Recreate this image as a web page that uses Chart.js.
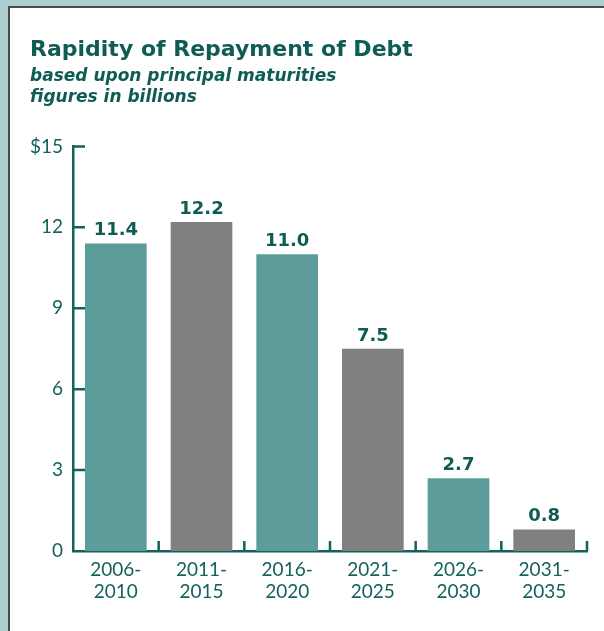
<!DOCTYPE html>
<html>
<head>
<meta charset="utf-8">
<script src="https://cdn.jsdelivr.net/npm/chart.js@4"></script>
<style>
  html, body { margin: 0; padding: 0; }
  body { width: 604px; height: 631px; background: #aecfcf; position: relative; overflow: hidden; }
  #panel { position: absolute; left: 8px; top: 6px; right: 0; bottom: 0; background: #fff;
           border-left: 2px solid #4a4a4a; border-top: 2px solid #4a4a4a; }
  #chart { position: absolute; left: 0; top: 0; }
</style>
</head>
<body>
<div id="panel"></div>
<canvas id="chart" width="604" height="631"></canvas>
<script>
// 만기 구간별 원금 상환액 (단위: 십억 달러)
const periods = [['2006-', '2010'], ['2011-', '2015'], ['2016-', '2020'], ['2021-', '2025'], ['2026-', '2030'], ['2031-', '2035']];
const maturities = [11.4, 12.2, 11.0, 7.5, 2.7, 0.8];
const yTicks = [0, 3, 6, 9, 12, 15];

const teal = '#5c9c9a';
const grey = '#808080';
const ink = '#0f5c54';
const axisInk = '#13625b';

// 축 안쪽으로 들어가는 눈금과 막대 위 값 표시
const innerTicks = {
    id: 'innerTicks',
    afterDraw(chart) {
        const {ctx, chartArea, scales: {x, y}} = chart;
        ctx.save();
        ctx.strokeStyle = axisInk;
        ctx.lineWidth = 2.5;
        ctx.lineCap = 'butt';
        ctx.beginPath();
        yTicks.forEach(v => {
            if (v === 0) return;
            const py = y.getPixelForValue(v);
            ctx.moveTo(chartArea.left, py);
            ctx.lineTo(chartArea.left + 12, py);
        });
        for (let i = 0; i < periods.length; i++) {
            const px = x.getPixelForValue(i + 0.5);
            ctx.moveTo(px, chartArea.bottom);
            ctx.lineTo(px, chartArea.bottom - 10);
        }
        ctx.stroke();

        // 막대 위 숫자
        const meta = chart.getDatasetMeta(0);
        ctx.fillStyle = ink;
        ctx.font = 'bold 18px "DejaVu Sans"';
        ctx.textAlign = 'center';
        ctx.textBaseline = 'alphabetic';
        meta.data.forEach((bar, i) => {
            ctx.fillText(maturities[i].toFixed(1), bar.x, bar.y - 8);
        });
        ctx.restore();
    }
};

const ctx = document.getElementById('chart').getContext('2d');
const myChart = new Chart(ctx, {
    type: 'bar',
    data: {
        labels: periods,
        datasets: [{
            data: maturities,
            backgroundColor: maturities.map((_, i) => i % 2 === 0 ? teal : grey),
            borderWidth: 0,
            barPercentage: 0.72,
            categoryPercentage: 1
        }]
    },
    options: {
        responsive: false,
        animation: false,
        layout: { padding: { left: 30, right: 17, top: 37, bottom: 20 } },
        plugins: {
            legend: { display: false },
            tooltip: { enabled: false },
            title: {
                display: true,
                text: 'Rapidity of Repayment of Debt',
                align: 'start',
                color: ink,
                font: { family: 'DejaVu Sans', size: 22, weight: 'bold', lineHeight: 1.2 },
                padding: { top: 0, bottom: 0 }
            },
            subtitle: {
                display: true,
                text: ['based upon principal maturities', 'figures in billions'],
                align: 'start',
                color: ink,
                font: { family: 'DejaVu Sans', size: 17, weight: 'bold', style: 'italic', lineHeight: 1.235 },
                padding: { top: 3, bottom: 38 }
            }
        },
        scales: {
            x: {
                grid: { display: false, drawTicks: false },
                border: { display: true, color: axisInk, width: 2.5 },
                ticks: {
                    color: axisInk,
                    font: { family: 'Lato', size: 19, lineHeight: 1.15 },
                    padding: 8,
                    maxRotation: 0
                },
                afterFit(scale) { scale.height = 60; }
            },
            y: {
                min: 0,
                max: 15,
                afterBuildTicks(scale) { scale.ticks = yTicks.map(v => ({ value: v })); },
                grid: { display: false, drawTicks: false },
                border: { display: true, color: axisInk, width: 2.5 },
                ticks: {
                    color: axisInk,
                    font: { family: 'Lato', size: 19 },
                    padding: 10,
                    callback: v => v === 15 ? '$15' : v
                },
                afterFit(scale) { scale.width = 43; }
            }
        }
    },
    plugins: [innerTicks]
});
</script>
</body>
</html>
